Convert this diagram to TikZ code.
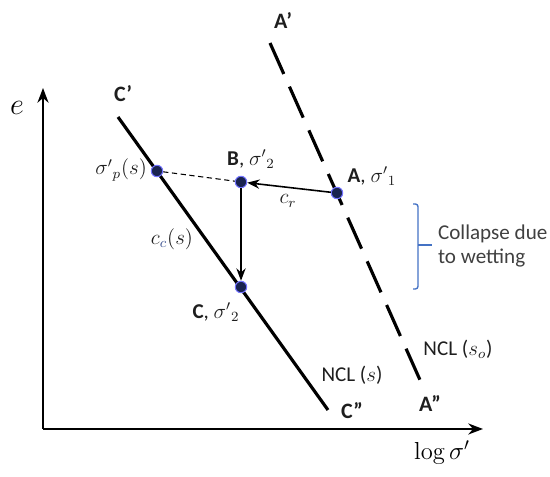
\documentclass[tikz,border=0pt]{standalone}
\usepackage{amsmath}
\usepackage{fontspec}
\newfontfamily\calibri{Carlito}
\usetikzlibrary{arrows.meta}
\definecolor{bracecol}{RGB}{68,114,196}
\definecolor{dotcol}{RGB}{25,35,80}
\definecolor{txtgray}{RGB}{30,30,30}
\definecolor{subblue}{RGB}{70,90,150}

\begin{document}
\begin{tikzpicture}[>=Stealth,line join=round,font=\fontsize{12}{14.2}\selectfont\calibri,
  dot/.style={circle,fill=dotcol,draw=blue!55,line width=0.6pt,inner sep=0pt,minimum size=6.5pt},
  ncl/.style={line width=1.8pt},
  axis/.style={->,line width=1.2pt},
  move/.style={->,line width=0.9pt},
  lbl/.style={inner sep=1pt,text=txtgray},
  endlbl/.style={lbl,font=\fontsize{12.5}{14}\selectfont\calibri\bfseries}]
\useasboundingbox (0,0) rectangle (11,9.54);
% axes
\coordinate (O) at (0.86,0.96);
\coordinate (etip) at (0.86,7.78);
\coordinate (stip) at (9.66,0.96);
\draw[axis] (O) -- (etip);
\draw[axis] (O) -- (stip);
\node (elab) at (0.34,7.38) {\fontsize{16}{18}\selectfont$e$};
\node (slab) at (8.84,0.48) {\fontsize{14}{16}\selectfont$\log\sigma'$};
% NCL (s) and NCL (s_o)
\coordinate (Ctop) at (2.36,7.20);
\coordinate (Cbot) at (6.56,1.34);
\coordinate (Atop) at (5.40,8.68);
\coordinate (Abot) at (8.40,1.94);
\draw[ncl] (Ctop) -- (Cbot);
\draw[ncl,dash pattern=on 19.3pt off 7.9pt] (Atop) -- (Abot);
\node[endlbl] (Cp) at (2.46,7.66) {C’};
\node[endlbl] (Cpp) at (7.04,1.32) {C”};
\node[endlbl] (Ap) at (5.66,9.12) {A’};
\node[endlbl] (App) at (8.60,1.46) {A”};
\node[lbl] (ncls) at (7.04,2.04) {NCL ($s$)};
\node[lbl] (nclso) at (9.16,2.56) {NCL ($s_o$)};
% states
\node[dot] (A) at (6.74,5.68) {};
\node[dot] (B) at (4.82,5.90) {};
\node[dot] (P) at (3.14,6.12) {};
\node[dot] (C) at (4.82,3.80) {};
\draw[line width=0.6pt,dash pattern=on 3pt off 2pt] (P) -- (B);
\draw[move] (A) -- (B);
\draw[move] (B) -- (C);
\node[lbl] (Alab) at (7.44,6.02) {\textbf{A}, $\sigma'{}_1$};
\node[lbl] (Blab) at (5.02,6.36) {\textbf{B}, $\sigma'{}_2$};
\node[lbl] (Clab) at (4.32,3.30) {\textbf{C}, $\sigma'{}_2$};
\node[lbl,anchor=east] (Plab) at (2.98,6.14) {$\sigma'{}_p(s)$};
\node[lbl] (cr) at (5.76,5.52) {$c_r$};
\node[lbl] (cc) at (3.44,4.76) {$c_{\color{subblue}c}(s)$};
% collapse
\draw[bracecol,line width=0.8pt,rounded corners=1.5pt] (8.26,5.46) -- (8.36,5.46) -- (8.36,3.76) -- (8.26,3.76);
\draw[bracecol,line width=0.8pt] (8.36,4.64) -- (8.64,4.64);
\node[lbl,anchor=west,align=left,text=black!75] (collapse) at (8.72,4.62) {Collapse due\\to wetting};
\end{tikzpicture}
\end{document}
